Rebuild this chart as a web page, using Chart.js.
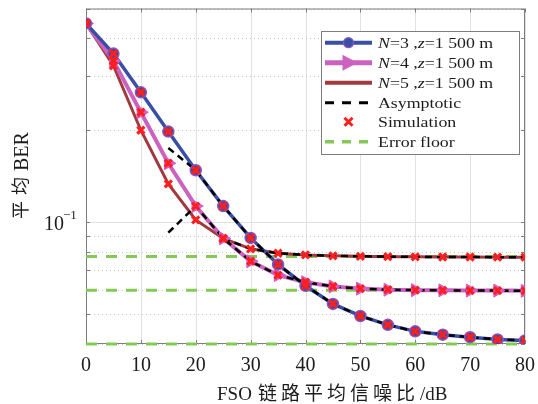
<!DOCTYPE html>
<html>
<head>
<meta charset="utf-8">
<script src="https://cdn.jsdelivr.net/npm/chart.js@4.4.1/dist/chart.umd.min.js"></script>
<style>
  html, body { margin: 0; padding: 0; background: #fff; }
</style>
</head>
<body>
<canvas id="myChart" width="538" height="404"></canvas>
<script>
'use strict';
// data
const snr = [0, 5, 10, 15, 20, 25, 30, 35, 40, 45, 50, 55, 60, 65, 70, 75, 80];
const berN3 = [0.447, 0.356, 0.266, 0.198, 0.148, 0.113, 0.0889, 0.0728, 0.0620, 0.0541, 0.0494, 0.0462, 0.0440, 0.0429, 0.0421, 0.0414, 0.0411];
const berN4 = [0.447, 0.337, 0.229, 0.156, 0.113, 0.0886, 0.0746, 0.0672, 0.0637, 0.0617, 0.0607, 0.0602, 0.0600, 0.0599, 0.0598, 0.0598, 0.0597];
const berN5 = [0.447, 0.325, 0.200, 0.1335, 0.1018, 0.0885, 0.0819, 0.0792, 0.0782, 0.0777, 0.0774, 0.0772, 0.0771, 0.0770, 0.0770, 0.0769, 0.0769];
const asymN3 = [null, null, null, 0.175, 0.148, 0.113, 0.0889, 0.0728, 0.0620, 0.0541, 0.0494, 0.0462, 0.0440, 0.0429, 0.0421, 0.0414, 0.0411];
const asymN4 = [null, null, null, 0.0925, 0.113, 0.0886, 0.0746, 0.0672, 0.0637, 0.0617, 0.0607, 0.0602, 0.0600, 0.0599, 0.0598, 0.0598, 0.0597];
const asymN5 = [null, null, null, null, null, 0.0885, 0.0819, 0.0792, 0.0782, 0.0777, 0.0774, 0.0772, 0.0771, 0.0770, 0.0770, 0.0769, 0.0769];
const floors = [0.0400, 0.0600, 0.0773];
const xTicks = [0, 10, 20, 30, 40, 50, 60, 70, 80];
const yTicks = [0.04, 0.05, 0.06, 0.07, 0.08, 0.09, 0.1, 0.2, 0.3, 0.4, 0.5];
const legendLabels = ['N=3 ,z=1 500 m', 'N=4 ,z=1 500 m', 'N=5 ,z=1 500 m', 'Asymptotic', 'Simulation', 'Error floor'];

const BLUE = '#3a4ea6';
const PINK = '#cc62c0';
const DRED = '#a1393f';
const RED = '#ff1f1f';
const GREEN = '#84c955';
const SERIF = "'Liberation Serif', 'Noto Sans CJK SC', serif";

const pts = arr => snr.map((x, i) => ({ x: x, y: arr[i] })).filter(p => p.y !== null);

const curve = (arr, color, w) => ({
    data: pts(arr), borderColor: color, borderWidth: w, pointRadius: 0, order: 3
});
const asym = arr => ({
    data: pts(arr), borderColor: '#000', borderWidth: 2.5, borderDash: [7, 5], pointRadius: 0, order: 2
});
const floorLine = v => ({
    data: [{ x: snr[0], y: v }, { x: snr[snr.length - 1], y: v }],
    borderColor: GREEN, borderWidth: 3, borderDash: [11, 9], pointRadius: 0, order: 4, clip: false
});
const sim = arr => ({
    data: pts(arr), showLine: false, pointStyle: 'crossRot', pointRadius: 5,
    pointBorderWidth: 3.2, pointBorderColor: RED, order: 0
});

const datasets = [
    ...floors.map(floorLine),
    curve(berN3, BLUE, 3.5),
    curve(berN4, PINK, 4),
    curve(berN5, DRED, 3),
    asym(asymN3), asym(asymN4), asym(asymN5),
    { data: pts(berN3), showLine: false, pointStyle: 'circle', pointRadius: 5.5,
      pointBackgroundColor: BLUE, pointBorderColor: '#8a55c0', pointBorderWidth: 1.5, order: 1 },
    { data: pts(berN4), showLine: false, pointStyle: 'triangle', rotation: 90, pointRadius: 7.5,
      pointBackgroundColor: '#d45ccb', pointBorderColor: '#d45ccb', pointBorderWidth: 1, order: 1 },
    sim(berN3), sim(berN4), sim(berN5)
];

// draws text stretched horizontally
const drawText = (c, text, x, y, font, sx) => {
    c.save();
    c.translate(x, y);
    c.scale(sx, 1);
    c.font = font;
    c.fillText(text, 0, 0);
    const w = c.measureText(text).width * sx;
    c.restore();
    return w;
};

const gridPlugin = {
    id: 'gridFrame',
    beforeDatasetsDraw(chart) {
        const c = chart.ctx;
        const a = chart.chartArea;
        const xs = chart.scales.x, ys = chart.scales.y;
        c.save();
        c.lineWidth = 1;
        xTicks.forEach(v => {
            const px = Math.round(xs.getPixelForValue(v)) + 0.5;
            c.strokeStyle = '#e2e2e2';
            c.setLineDash([]);
            c.beginPath(); c.moveTo(px, a.top); c.lineTo(px, a.bottom); c.stroke();
        });
        yTicks.forEach(v => {
            const py = Math.round(ys.getPixelForValue(v)) + 0.5;
            if (v === 0.1) {
                c.strokeStyle = '#e2e2e2';
                c.setLineDash([]);
            } else {
                c.strokeStyle = '#c4c4c4';
                c.setLineDash([1, 3]);
            }
            c.beginPath(); c.moveTo(a.left, py); c.lineTo(a.right, py); c.stroke();
        });
        // frame + inward ticks
        c.setLineDash([]);
        c.strokeStyle = '#7d7d7d';
        c.strokeRect(a.left + 0.5, a.top + 0.5, a.right - a.left - 1, a.bottom - a.top - 1);
        c.beginPath();
        xTicks.forEach(v => {
            const px = Math.round(xs.getPixelForValue(v)) + 0.5;
            c.moveTo(px, a.bottom); c.lineTo(px, a.bottom - 4);
            c.moveTo(px, a.top); c.lineTo(px, a.top + 4);
        });
        yTicks.forEach(v => {
            const py = Math.round(ys.getPixelForValue(v)) + 0.5;
            c.moveTo(a.left, py); c.lineTo(a.left + 4, py);
            c.moveTo(a.right, py); c.lineTo(a.right - 4, py);
        });
        c.stroke();
        c.restore();
    },
    afterDraw(chart) {
        const c = chart.ctx;
        const xs = chart.scales.x, ys = chart.scales.y;
        c.save();
        c.fillStyle = '#1c1c1c';
        c.textBaseline = 'alphabetic';
        // x tick labels
        c.font = '20px ' + SERIF;
        c.textAlign = 'center';
        xTicks.forEach(v => c.fillText(String(v), xs.getPixelForValue(v), 371));
        // 10^-1
        c.textAlign = 'left';
        const py = ys.getPixelForValue(0.1);
        c.font = '20px ' + SERIF;
        c.fillText('10', 44, py + 7.5);
        c.font = '13px ' + SERIF;
        c.fillText('\u22121', 63, py - 3);
        // x title
        c.font = '19px ' + SERIF;
        c.fillText('FSO', 217, 400);
        const cjk = '链路平均信噪比';
        for (let i = 0; i < cjk.length; i++) c.fillText(cjk[i], 258 + i * 23, 400);
        c.fillText('/dB', 420, 400);
        // y title
        c.save();
        c.translate(22, 219);
        c.rotate(-Math.PI / 2);
        c.textBaseline = 'middle';
        c.font = '18px ' + SERIF;
        c.fillText('平', 0, 0);
        c.fillText('均', 24, 0);
        c.font = '20px ' + SERIF;
        c.fillText('BER', 48, 1);
        c.restore();
        drawLegend(c);
        c.restore();
    }
};

const drawLegend = c => {
    const bx = 321, by = 31, bw = 198, bh = 123;
    c.save();
    c.fillStyle = '#fff';
    c.fillRect(bx, by, bw, bh);
    c.strokeStyle = '#7d7d7d';
    c.lineWidth = 1;
    c.strokeRect(bx + 0.5, by + 0.5, bw, bh);
    const rows = [42.7, 62.7, 82.7, 102.7, 121.7, 141.7];
    const x0 = 325, x1 = 372, xm = 348.5;
    const lineStyles = [
        { color: BLUE, w: 4, dash: [] },
        { color: PINK, w: 5, dash: [] },
        { color: DRED, w: 4, dash: [] },
        { color: '#000', w: 3, dash: [9, 8] },
        null,
        { color: GREEN, w: 3.5, dash: [9, 8] }
    ];
    rows.forEach((y, i) => {
        const s = lineStyles[i];
        if (s) {
            c.strokeStyle = s.color;
            c.lineWidth = s.w;
            c.setLineDash(s.dash);
            c.beginPath(); c.moveTo(x0, y); c.lineTo(x1, y); c.stroke();
            c.setLineDash([]);
        }
    });
    // markers
    c.fillStyle = BLUE;
    c.strokeStyle = '#8a55c0';
    c.lineWidth = 1.2;
    c.beginPath(); c.arc(xm, rows[0], 5, 0, Math.PI * 2); c.fill(); c.stroke();
    c.fillStyle = PINK;
    c.beginPath();
    c.moveTo(xm - 6, rows[1] - 8); c.lineTo(xm + 9, rows[1]); c.lineTo(xm - 6, rows[1] + 8);
    c.closePath(); c.fill();
    c.strokeStyle = RED;
    c.lineWidth = 3;
    c.beginPath();
    c.moveTo(xm - 4, rows[4] - 4); c.lineTo(xm + 4, rows[4] + 4);
    c.moveTo(xm + 4, rows[4] - 4); c.lineTo(xm - 4, rows[4] + 4);
    c.stroke();
    // labels
    c.fillStyle = '#1c1c1c';
    c.textAlign = 'left';
    c.textBaseline = 'alphabetic';
    const sx = 1.15, tx = 378;
    const reg = '15.5px ' + SERIF, ita = 'italic 15.5px ' + SERIF;
    legendLabels.forEach((lab, i) => {
        const y = rows[i] + 5;
        if (i < 3) {
            const m = lab.match(/^N(=\d ,)z(.*)$/);
            let x = tx;
            x += drawText(c, 'N', x, y, ita, sx);
            x += drawText(c, m[1], x, y, reg, sx);
            x += drawText(c, 'z', x, y, ita, sx);
            drawText(c, m[2], x, y, reg, sx);
        } else {
            drawText(c, lab, tx, y, reg, sx);
        }
    });
    c.restore();
};

const ctx = document.getElementById('myChart');
const myChart = new Chart(ctx.getContext('2d'), {
    type: 'line',
    data: { datasets: datasets },
    options: {
        responsive: false,
        animation: false,
        layout: { padding: { top: 6, right: 13, left: 0, bottom: 0 } },
        plugins: {
            legend: { display: false },
            tooltip: { enabled: false }
        },
        scales: {
            x: {
                type: 'linear', min: 0, max: 80,
                ticks: { display: false, stepSize: 10 },
                grid: { display: false, drawTicks: false },
                border: { display: false },
                afterFit: s => { s.height = 60; }
            },
            y: {
                type: 'logarithmic', min: 0.04, max: 0.5,
                ticks: { display: false },
                grid: { display: false, drawTicks: false },
                border: { display: false },
                afterFit: s => { s.width = 86; }
            }
        }
    },
    plugins: [gridPlugin]
});
</script>
</body>
</html>
